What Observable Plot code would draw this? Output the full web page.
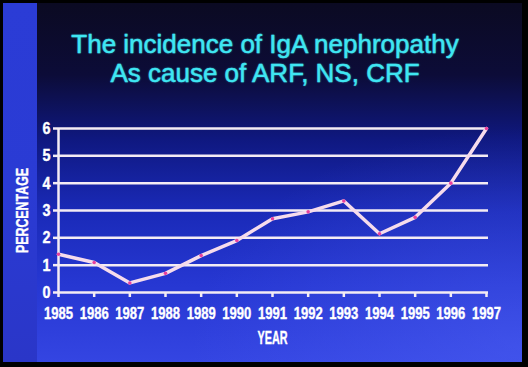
<!DOCTYPE html>
<html>
<head>
<meta charset="utf-8">
<script src="https://cdn.jsdelivr.net/npm/d3@7"></script>
<script src="https://cdn.jsdelivr.net/npm/@observablehq/plot@0.6"></script>
<style>
  html, body { margin: 0; padding: 0; background: #000; }
  #page { position: relative; width: 528px; height: 367px; overflow: hidden; background: #000; }
  #slide {
    position: absolute; left: 3px; top: 3px; width: 519px; height: 359px;
    background: linear-gradient(180deg, #0b0a22 0%, #0c0c38 20%, #0f1880 38%, #1a2ab8 58%, #2637d2 78%, #3445e2 100%);
  }
  #glow {
    position: absolute; left: 3px; top: 3px; width: 519px; height: 359px;
    background: radial-gradient(ellipse at 100% 95%, rgba(90,110,255,0.35) 0%, rgba(90,110,255,0) 45%);
  }
  #strip {
    position: absolute; left: 3px; top: 3px; width: 34px; height: 359px;
    background: linear-gradient(180deg, #2b3cd6 0%, #2a3bd4 50%, #2a36c8 100%);
  }
  #title {
    position: absolute; left: 0; top: 30px; width: 530px; text-align: center;
    font-family: "Liberation Sans", Arial, sans-serif; font-size: 26px; line-height: 29px;
    color: #3fe6f2; text-shadow: 0 0 2px rgba(70,230,245,0.7);
    -webkit-text-stroke: 0.4px #3fe6f2;
  }
  #chart { position: absolute; left: 0; top: 0; }
</style>
</head>
<body>
<div id="page">
  <div id="slide"></div>
  <div id="glow"></div>
  <div id="strip"></div>
  <div id="title">The incidence of IgA nephropathy<br>As cause of ARF, NS, CRF</div>
  <div id="chart"></div>
</div>
<script>
const years = [1985, 1986, 1987, 1988, 1989, 1990, 1991, 1992, 1993, 1994, 1995, 1996, 1997];
const percentage = [1.4, 1.1, 0.35, 0.7, 1.35, 1.9, 2.7, 2.95, 3.35, 2.15, 2.75, 4.0, 6.0];
const yTicks = [0, 1, 2, 3, 4, 5, 6];
const yLabel = "PERCENTAGE";
const xLabel = "YEAR";

const data = years.map((y, i) => ({year: y, value: percentage[i]}));
const font = '"Liberation Sans", Arial, sans-serif';

const chart = Plot.plot({
  width: 528,
  height: 367,
  marginLeft: 58,
  marginRight: 42,
  marginTop: 128,
  marginBottom: 75,
  style: {background: "transparent", color: "white", fontFamily: font, fontSize: "17px", fontWeight: "bold", overflow: "visible"},
  x: {domain: [1985, 1997]},
  y: {domain: [0, 6]},
  marks: [
    Plot.ruleY(yTicks, {y: d => d, stroke: "#f4ecf4", strokeWidth: 2.5, insetRight: -2}),
    Plot.ruleX([1985], {y1: 0, y2: 6, stroke: "#f4ecf4", strokeWidth: 2.5}),
    Plot.axisX({ticks: years, tickFormat: "d", tickSize: 5, tickPadding: 9, stroke: "#f4ecf4", strokeWidth: 2.5, fill: "white", label: null, fontSize: 17, fontWeight: "bold"}),
    Plot.axisY({ticks: yTicks, tickFormat: "d", tickSize: 5, tickPadding: 3, stroke: "#f4ecf4", strokeWidth: 2.5, fill: "white", label: null, fontSize: 17, fontWeight: "bold"}),
    Plot.line(data, {x: "year", y: "value", stroke: "#f6dcec", strokeWidth: 3.5, strokeLinejoin: "round"}),
    Plot.dot(data, {x: "year", y: "value", r: 1.8, fill: "#e8409e"}),
    Plot.text([yLabel], {frameAnchor: "left", textAnchor: "middle", dx: -36, rotate: -90, fill: "white", fontSize: 16, fontWeight: "bold"}),
    Plot.text([xLabel], {frameAnchor: "bottom", textAnchor: "middle", dy: 51, fill: "white", fontSize: 18, fontWeight: "bold"})
  ]
});
document.getElementById("chart").appendChild(chart);

// condense and embolden the labels like the slide's narrow heavy typeface
d3.select(chart).selectAll("text").each(function () {
  const t = this.textContent.trim();
  let len = null;
  if (/^\d{4}$/.test(t)) len = 29;
  else if (/^\d$/.test(t)) len = 8;
  else if (t === yLabel) len = 85;
  else if (t === xLabel) len = 30;
  if (len != null) {
    this.setAttribute("textLength", len);
    this.setAttribute("lengthAdjust", "spacingAndGlyphs");
    this.style.stroke = "white";
    this.style.strokeWidth = "0.4px";
  }
});
</script>
</body>
</html>
